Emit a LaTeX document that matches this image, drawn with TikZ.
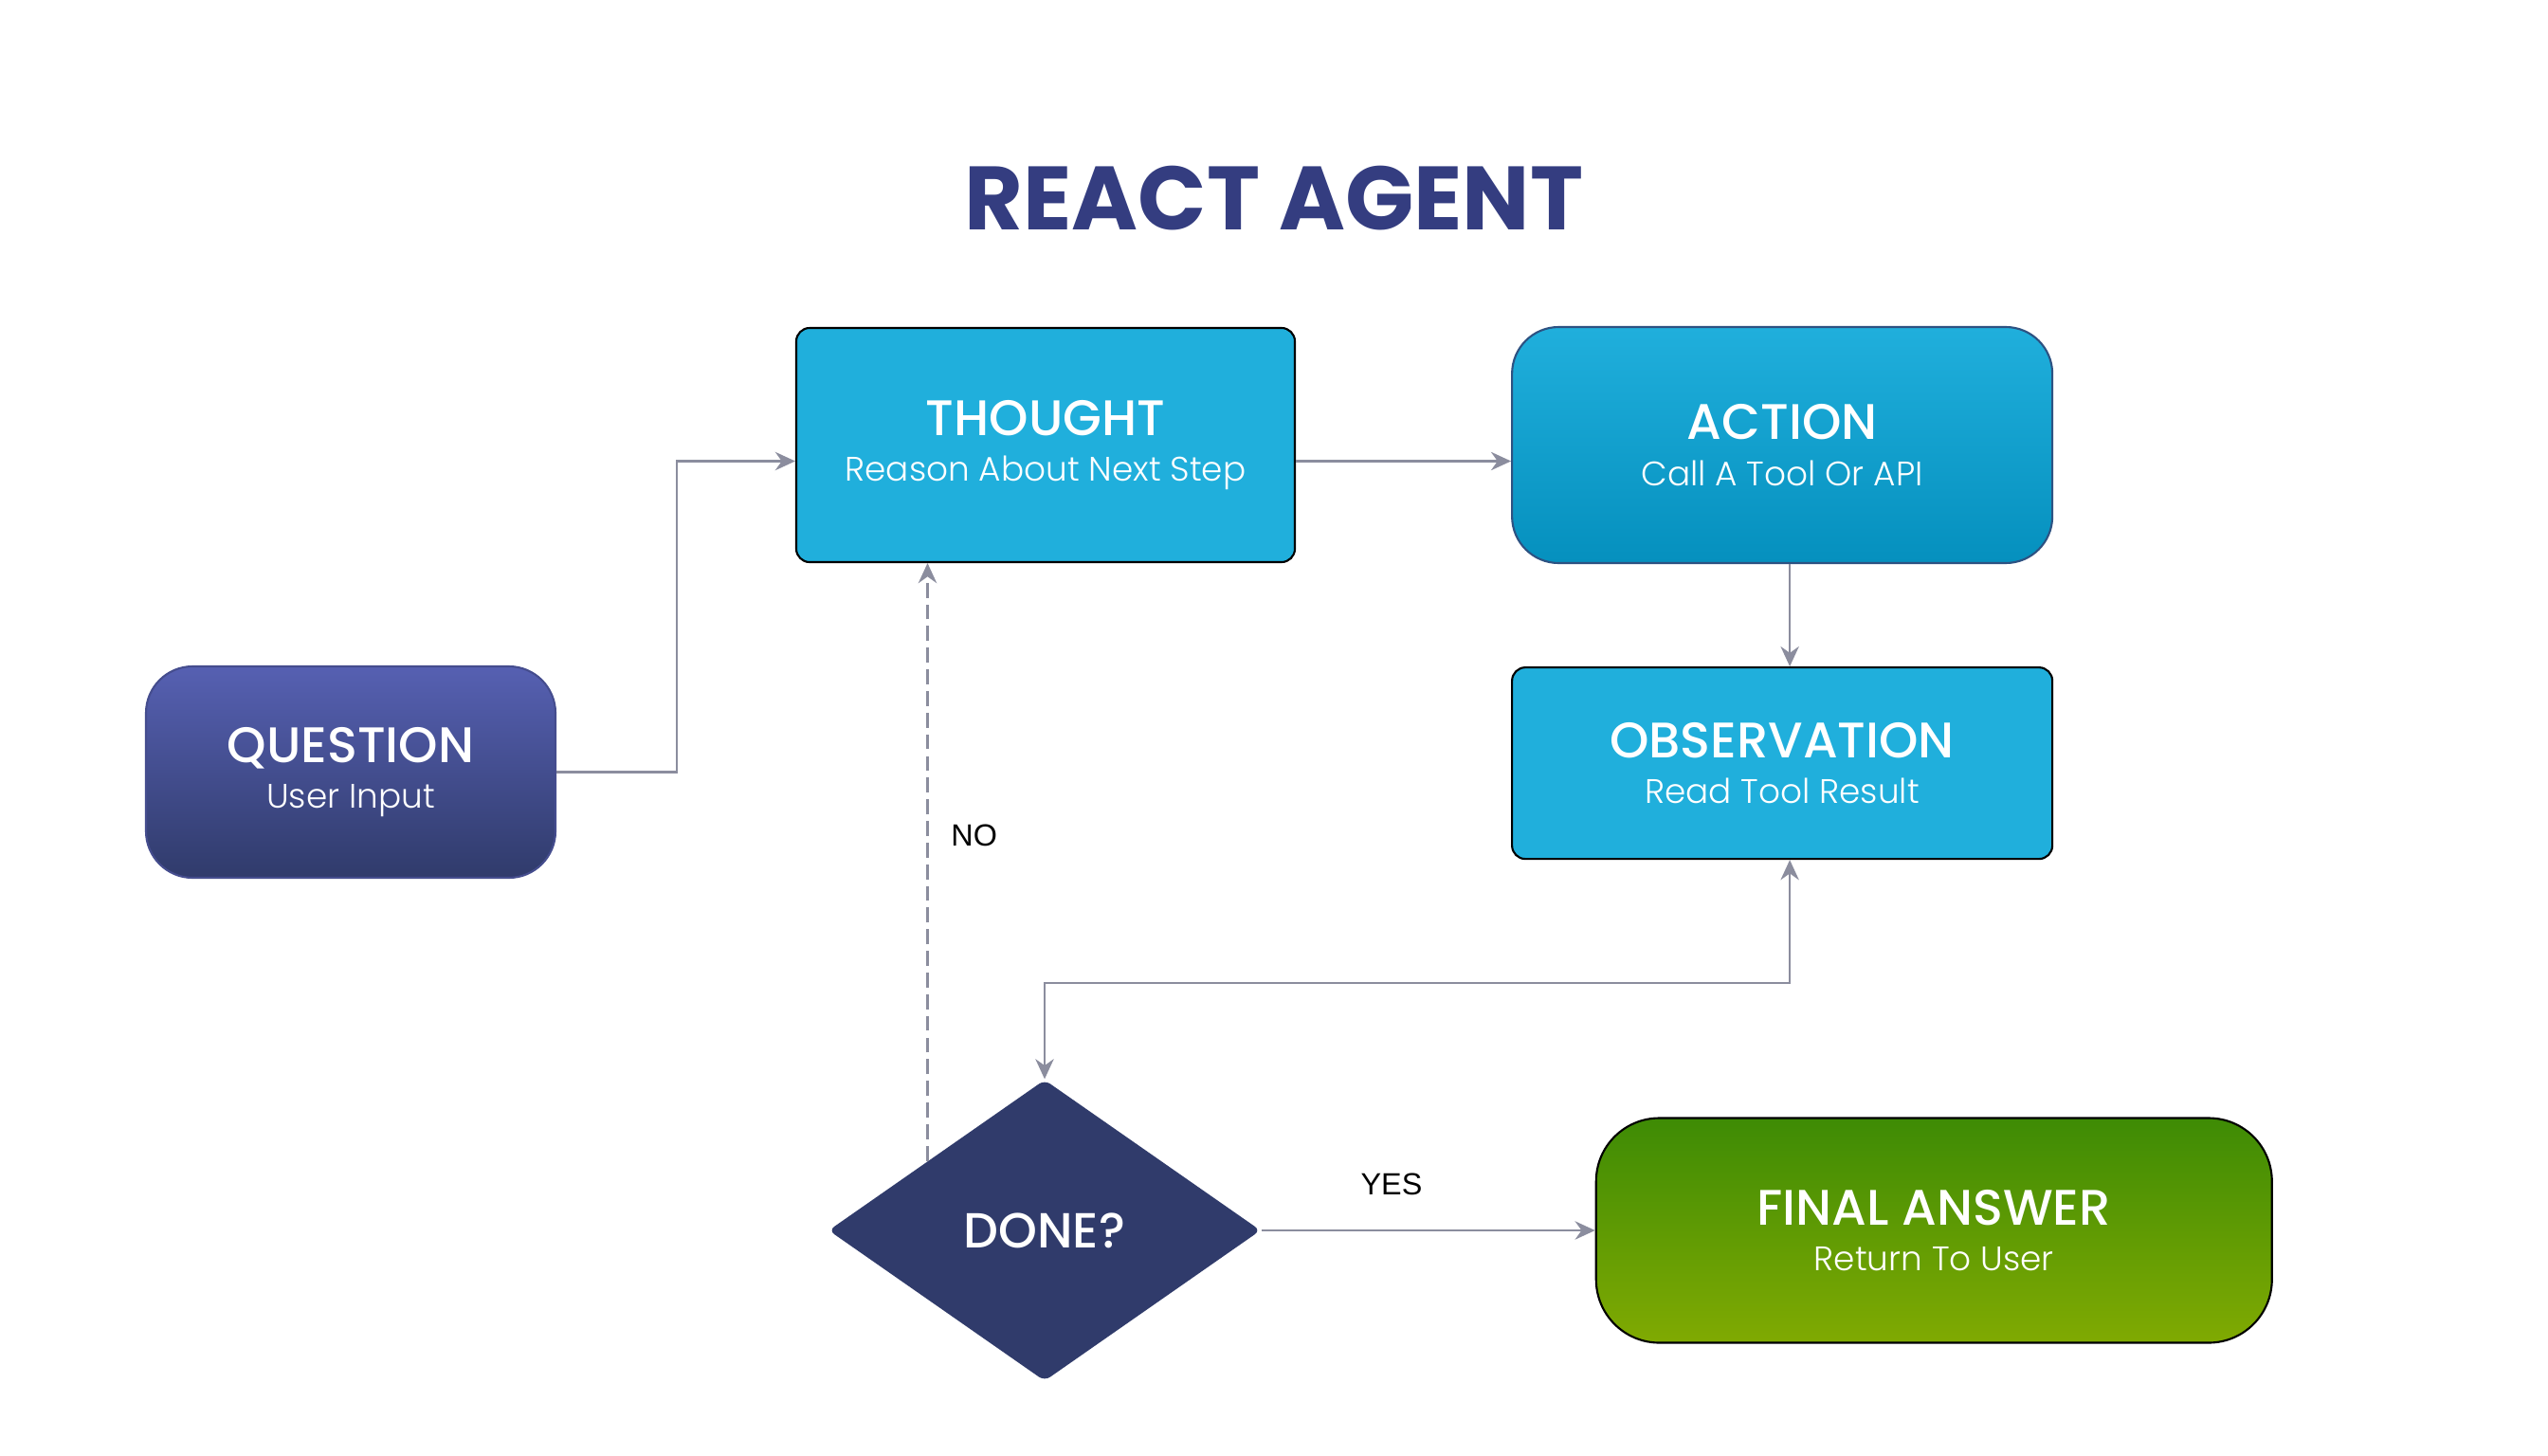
\documentclass[tikz,border=0pt]{standalone}
\usepackage{fontspec}
\setmainfont{Poppins}
\newfontfamily\headfont{Poppins Medium}
\newfontfamily\subfont{Poppins Light}
\newfontfamily\labelfont{Liberation Sans}
\usepackage{tikz}
\usetikzlibrary{arrows.meta, positioning, calc, shapes.geometric}
\definecolor{reacttitle}{HTML}{343D80}
\definecolor{reactcyan}{HTML}{20AFDC}
\definecolor{reactcyandark}{HTML}{0590BE}
\definecolor{reactviolet}{HTML}{5660B2}
\definecolor{reactnavy}{HTML}{303B6B}
\definecolor{reactgreen}{HTML}{3E8B05}
\definecolor{reactlime}{HTML}{80AA02}
\definecolor{reactgray}{HTML}{8B8D9E}
\newcommand{\boxlabel}[2]{{\headfont\fontsize{15pt}{13.5pt}\selectfont #1}\\{\subfont #2}}

\begin{document}
\begin{tikzpicture}[
    node distance=1.08cm and 2.27cm,
    box/.style={rectangle, align=center, text=white, inner sep=0pt, line width=0.6pt,
                font=\fontsize{10.2pt}{13.8pt}\selectfont},
    thoughtbox/.style={box, draw=black, fill=reactcyan, rounded corners=4pt,
                minimum width=5.26cm, minimum height=2.47cm},
    actionbox/.style={box, draw=reactnavy!80!reactcyan, top color=reactcyan, bottom color=reactcyandark,
                rounded corners=14pt, minimum width=5.70cm, minimum height=2.49cm},
    obsbox/.style={box, draw=black, fill=reactcyan, rounded corners=4pt,
                minimum width=5.70cm, minimum height=2.02cm},
    questionbox/.style={box, draw=reactviolet!80!black, top color=reactviolet, bottom color=reactnavy,
                rounded corners=14pt, minimum width=4.32cm, minimum height=2.23cm},
    finalbox/.style={box, draw=black, top color=reactgreen, bottom color=reactlime,
                rounded corners=19pt, minimum width=7.13cm, minimum height=2.37cm},
    decision/.style={diamond, fill=reactnavy, text=white, inner sep=0pt, rounded corners=2pt,
                minimum width=4.56cm, minimum height=3.18cm, font=\headfont\fontsize{14.8pt}{16pt}\selectfont},
    arrow/.style={-{Stealth[length=6pt, width=5.5pt]}, line width=0.7pt, draw=reactgray},
    branch/.style={font=\labelfont\fontsize{9.2pt}{11pt}\selectfont, text=black},
]
  \useasboundingbox[fill=white] (0,0) rectangle (26.88,-15.36);

  \node[font=\bfseries\fontsize{27pt}{30pt}\selectfont, text=reacttitle] (title) at (13.44,-2.09) {REACT AGENT};

  % Loop: thought -> action -> observation
  \node[thoughtbox] (thought) at (11.03,-4.695) {\boxlabel{THOUGHT}{Reason About Next Step}};
  \node[actionbox, right=of thought] (action) {\boxlabel{ACTION}{Call A Tool Or API}};
  \node[obsbox, below=of action] (obs) {\boxlabel{OBSERVATION}{Read Tool Result}};

  % Entry and exit
  \node[questionbox] (question) at (3.70,-8.145) {\boxlabel{QUESTION}{User Input}};
  \node[decision] (done) at (11.02,-12.98) {DONE?};
  \node[finalbox, right=3.52cm of done] (final) {\boxlabel{FINAL ANSWER}{Return To User}};

  % Arrows
  \draw[arrow] (question.east) -- ++(1.27,0) |- ([yshift=-0.17cm]thought.west);
  \draw[arrow] ([yshift=-0.17cm]thought.east) -- ([yshift=-0.17cm]action.west);
  \draw[arrow] ([xshift=0.08cm]action.south) -- ([xshift=0.08cm]obs.north);
  \draw[arrow, {Stealth[length=6pt, width=5.5pt]}-{Stealth[length=6pt, width=5.5pt]}]
    ([xshift=0.08cm]obs.south) -- ++(0,-1.30) -| (done.north);

  \coordinate (nostart) at ($(done.north)!0.54!(done.west)$);
  \draw[arrow, dash pattern=on 4.5pt off 2pt] (nostart) -- (nostart |- thought.south)
    node[branch, pos=0.545, right=0.12cm] (nolabel) {NO};
  \draw[arrow] (done.east) -- (final.west)
    node[branch, pos=0.39, above=0.24cm] (yeslabel) {YES};
\end{tikzpicture}
\end{document}
